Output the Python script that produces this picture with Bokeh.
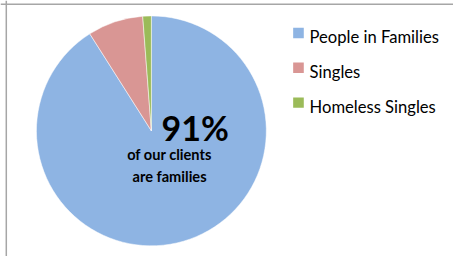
import math
from bokeh.plotting import figure
from bokeh.models import ColumnDataSource, Range1d, Span
from bokeh.core.properties import value
from bokeh.embed import file_html
from bokeh.resources import INLINE

# ---- data ----
categories = ["People in Families", "Singles", "Homeless Singles"]
shares = [91.0, 7.8, 1.2]
colors = ["#8EB4E3", "#D99694", "#9BBB59"]
headline = "91%"
caption = ["of our clients", "are families"]

W, H = 453, 256          # pixel size of the figure
RW, RH = 469, 272        # layout coordinate space
FONT = "Lato"

p = figure(width=W, height=H, output_backend="svg", toolbar_location=None,
           x_range=Range1d(0, RW), y_range=Range1d(0, RH),
           min_border=0, outline_line_color=None)
p.axis.visible = False
p.grid.visible = False
p.background_fill_color = "white"
p.border_fill_color = "white"

# frame of the chart area (left and top edges visible)
p.add_layout(Span(location=6, dimension="height", line_color="#A6A6A6", line_width=1.5))
p.add_layout(Span(location=RH - 4, dimension="width", line_color="#A6A6A6", line_width=1.5))

# ---- pie ----
total = sum(shares)
starts, ends = [], []
acc = 0.0
for s in shares:
    starts.append(math.pi / 2 - 2 * math.pi * acc / total)
    acc += s
    ends.append(math.pi / 2 - 2 * math.pi * acc / total)

cx, cy, r = 156.2, 133.5, 119
src = ColumnDataSource(dict(start=starts, end=ends, color=colors, label=categories))
p.wedge(x=cx, y=cy, radius=r, start_angle="start", end_angle="end",
        direction="clock", fill_color="color", line_color="white", line_width=0.5,
        source=src)

# ---- center annotation ----
p.text(x=[201.5], y=[137], text=[headline], text_font=value(FONT),
       text_font_style="bold", text_font_size="34px", text_color="#000000",
       text_align="center", text_baseline="alphabetic")
p.text(x=[175, 175], y=[108, 85.3], text=caption, text_font=value(FONT),
       text_font_style="bold", text_font_size="14.6px", text_color="#000000",
       text_align="center", text_baseline="alphabetic")

# ---- legend ----
ly = [237.5 - 37 * i for i in range(len(categories))]
leg = ColumnDataSource(dict(x=[308.5] * len(categories), y=ly, color=colors,
                            tx=[320] * len(categories), ty=[v - 4.8 for v in ly],
                            label=categories))
p.rect(x="x", y="y", width=11, height=11, fill_color="color", line_color=None, source=leg)
p.text(x="tx", y="ty", text="label", text_font=value(FONT), text_font_size="16.6px",
       text_color="#000000", text_align="left", text_baseline="alphabetic", source=leg)

open("out.html", "w").write(file_html(p, INLINE))
